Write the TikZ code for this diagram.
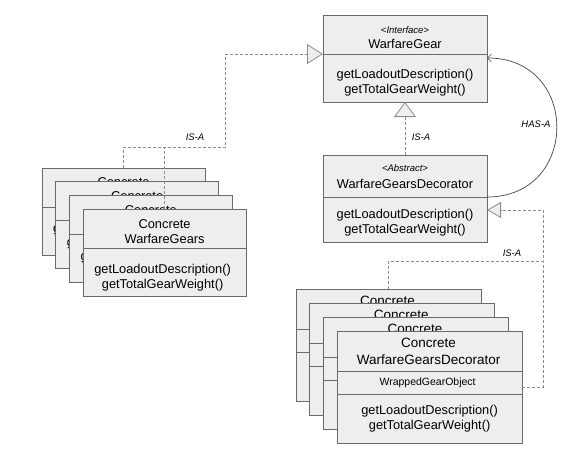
\documentclass[tikz,border=0pt]{standalone}
\usepackage{fontspec}
\setmainfont{Liberation Sans}
\usetikzlibrary{arrows.meta,calc}
\definecolor{boxfill}{HTML}{EEEEEE}
\definecolor{boxline}{HTML}{6A6A6A}
\definecolor{dashline}{HTML}{8C8C8C}
\definecolor{hasline}{HTML}{444444}
\tikzset{
  umlbox/.style={draw=boxline, fill=boxfill, line width=0.8pt, anchor=north west, inner sep=0pt, outer sep=0pt},
  divider/.style={draw=boxline, line width=0.8pt},
  txt/.style={font=\fontsize{12.8}{15}\selectfont, inner sep=0pt, align=center},
  ttl/.style={font=\fontsize{13.5}{16.5}\selectfont, inner sep=0pt, align=center},
  small/.style={font=\fontsize{10.5}{12}\selectfont, inner sep=0pt},
  ster/.style={font=\fontsize{9.5}{11}\selectfont\itshape, inner sep=0pt},
  lbl/.style={font=\fontsize{9.5}{11}\selectfont\itshape, inner sep=0pt},
  dashc/.style={draw=dashline, line width=0.8pt, dash pattern=on 3pt off 2pt},
  inhA/.style={-{Triangle[length=16pt,width=20pt,fill=boxfill]}},
  inhB/.style={-{Triangle[length=15pt,width=22pt,fill=boxfill]}},
  inhC/.style={-{Triangle[length=14pt,width=16pt,fill=boxfill]}},
  hasa/.style={draw=hasline, line width=0.7pt, -{Straight Barb[length=4pt,width=8pt]}}
}
\begin{document}
\begin{tikzpicture}[x=1pt,y=-1pt]
\useasboundingbox (0,0) rectangle (584,450);

% ---- WarfareGear interface
\node[umlbox, minimum width=164pt, minimum height=87pt] (wg) at (323,15) {};
\draw[divider] ($(wg.north west)+(0,39)$) -- ($(wg.north east)+(0,39)$);
\node[ster] (wgst) at (405,30) {<Interface>};
\node[txt] (wgname) at (405,44) {WarfareGear};
\node[txt] (wgm) at (405,82.5) {getLoadoutDescription()\\getTotalGearWeight()};

% ---- Decorator abstract
\node[umlbox, minimum width=164pt, minimum height=87pt] (dec) at (323,155) {};
\draw[divider] ($(dec.north west)+(0,42)$) -- ($(dec.north east)+(0,42)$);
\node[ster] (decst) at (405,168) {<Abstract>};
\node[txt] (decname) at (405,184) {WarfareGearsDecorator};
\node[txt] (decm) at (405,222.5) {getLoadoutDescription()\\getTotalGearWeight()};

% ---- Left stack: concrete gears
\foreach \i/\n in {0/a,1/b,2/c,3/d}{
  \pgfmathsetmacro\L{42+13.7*\i}
  \pgfmathsetmacro\T{168+13.7*\i}
  \node[umlbox, minimum width=163pt, minimum height=87pt] (cg\n) at (\L,\T) {};
  \draw[divider] ($(cg\n.north west)+(0,39)$) -- ($(cg\n.north east)+(0,39)$);
  \node[txt] (cgt\n) at ($(cg\n.north)+(0,22)$) {Concrete\\WarfareGears};
  \node[txt] (cgm\n) at ($(cg\n.north)+(-2,69)$) {getLoadoutDescription()\\getTotalGearWeight()};
}

% ---- Right stack: concrete decorators
\foreach \i/\n in {0/a,1/b,2/c,3/d}{
  \pgfmathsetmacro\L{296+13.7*\i}
  \pgfmathsetmacro\T{289+14*\i}
  \node[umlbox, minimum width=185pt, minimum height=112pt] (rd\n) at (\L,\T) {};
  \draw[divider] ($(rd\n.north west)+(0,40)$) -- ($(rd\n.north east)+(0,40)$);
  \draw[divider] ($(rd\n.north west)+(0,63)$) -- ($(rd\n.north east)+(0,63)$);
  \node[ttl] (rdt\n) at ($(rd\n.north)+(-1,20.5)$) {Concrete\\WarfareGearsDecorator};
  \node[small] (rdw\n) at ($(rd\n.north)+(-2,51.5)$) {WrappedGearObject};
  \node[txt] (rdm\n) at ($(rd\n.north)+(0,88)$) {getLoadoutDescription()\\getTotalGearWeight()};
}

% ---- connectors
\coordinate (wgin) at ($(wg.north west)+(0,39)$);
\coordinate (b1) at (225,147);
\draw[dashc, inhA] (cga.north) |- (b1) |- (wgin);
\draw[dashc] (cgd.north) -- (cgd.north |- b1);
\node[lbl] (lisa1) at (195,137) {IS-A};

\draw[dashc, inhB] (dec.north) -- (wg.south);
\node[lbl] (lisa2) at (421,137) {IS-A};

\coordinate (decout) at ($(dec.north east)+(0,42)$);
\coordinate (wgback) at ($(wg.north east)+(0,43)$);
\draw[hasa] (decout) .. controls +(93,0) and +(93,0) .. (wgback);
\node[lbl] (lhas) at (536,124) {HAS-A};

\coordinate (decin) at ($(dec.north east)+(0,55)$);
\coordinate (b2) at (543,261);
\coordinate (rdout) at ($(rdd.north east)+(0,56)$);
\draw[dashc, inhC] (rdout) -| (b2) |- (decin);
\draw[dashc] (rda.north) |- (b2);
\node[lbl] (lisa3) at (512,253) {IS-A};
\end{tikzpicture}
\end{document}
